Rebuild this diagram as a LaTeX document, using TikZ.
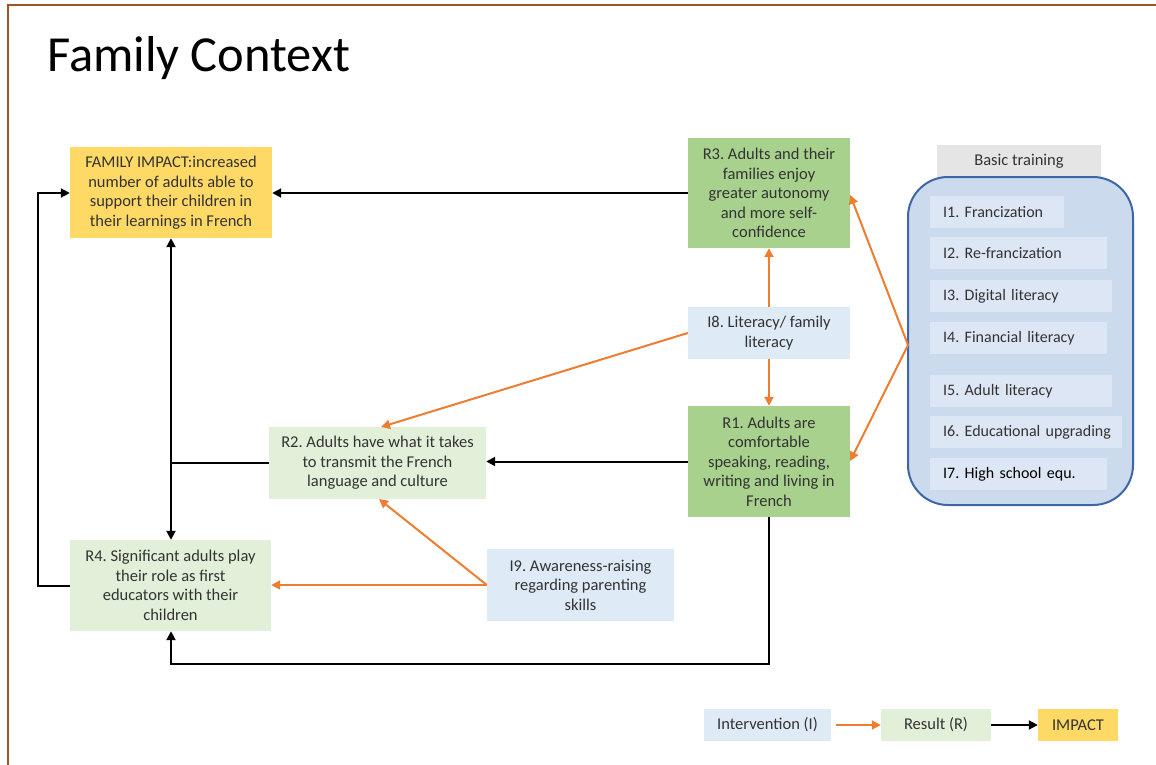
\documentclass[tikz,border=0pt]{standalone}
\usepackage{fontspec}
\setmainfont{Carlito}
\usetikzlibrary{arrows.meta}
\definecolor{frame}{HTML}{9E5424}
\definecolor{orangeln}{HTML}{ED7D31}
\definecolor{impactfill}{HTML}{FFD966}
\definecolor{resdark}{HTML}{A9D18E}
\definecolor{reslight}{HTML}{E2F0D9}
\definecolor{intfill}{HTML}{DEEBF7}
\definecolor{groupfill}{HTML}{CCDAEE}
\definecolor{groupline}{HTML}{3F65A9}
\definecolor{itemfill}{HTML}{DDE6F4}
\definecolor{labelfill}{HTML}{E5E5E5}
\definecolor{txt}{HTML}{333333}
\frenchspacing
\begin{document}
\begin{tikzpicture}[x=1pt,y=-1pt,
  box/.style={inner sep=0pt, align=center, text=txt,
    font=\fontsize{16.5}{19.5}\selectfont},
  item/.style={fill=itemfill, inner xsep=13pt, inner ysep=0pt,
    minimum height=32, text width=#1, align=left, anchor=west, text=txt,
    font=\fontsize{16}{18}\selectfont},
  blk/.style={line width=2pt, -{Triangle[length=9pt,width=9pt]}},
  blkline/.style={line width=2pt},
  org/.style={draw=orangeln, line width=2pt, -{Triangle[length=9pt,width=9pt]}},
]
\useasboundingbox (0,0) rectangle (1156,765);
% page frame
\draw[frame, line width=2pt] (1156,5) -- (8,5) -- (8,765);
\node[anchor=base west, inner sep=0pt, font=\fontsize{50.5}{55}\selectfont] (title) at (47,72) {Family Context};

% results and impact
\node[box, fill=impactfill, minimum width=202, minimum height=91] (impact) at (171,192.5)
  {FAMILY IMPACT:increased\\number of adults able to\\support their children in\\their learnings in French};
\node[box, fill=resdark, minimum width=162, minimum height=110] (r3) at (769,193)
  {R3. Adults and their\\families enjoy\\greater autonomy\\and more self-\\confidence};
\node[box, fill=intfill, minimum width=162, minimum height=52] (i8) at (769,333)
  {I8. Literacy/ family\\literacy};
\node[box, fill=resdark, minimum width=162, minimum height=111] (r1) at (769,461.5)
  {R1. Adults are\\comfortable\\speaking, reading,\\writing and living in\\French};
\node[box, fill=reslight, minimum width=217, minimum height=72] (r2) at (377.5,463)
  {R2. Adults have what it takes\\to transmit the French\\language and culture};
\node[box, fill=reslight, minimum width=201, minimum height=91] (r4) at (170.5,585.5)
  {R4. Significant adults play\\their role as first\\educators with their\\children};
\node[box, fill=intfill, minimum width=187, minimum height=72] (i9) at (580.5,585)
  {I9. Awareness-raising\\regarding parenting\\skills};

% basic training group
\node[box, fill=labelfill, minimum width=164, minimum height=32] (btlabel) at (1019,161) {Basic training};
\node[draw=groupline, fill=groupfill, line width=2pt, rounded corners=40pt,
  minimum width=225, minimum height=328, inner sep=0pt] (group) at (1020.5,341) {};
\node[item=108] (i1) at (930,212) {\mbox{I1. Francization}};
\node[item=151] (i2) at (930,253) {\mbox{I2. Re-francization}};
\node[item=156] (i3) at (930,296) {\mbox{I3. Digital literacy}};
\node[item=151] (i4) at (930,338) {\mbox{I4. Financial literacy}};
\node[item=156] (i5) at (930,391) {\mbox{I5. Adult literacy}};
\node[item=166] (i6) at (930,432) {\mbox{I6. Educational upgrading}};
\node[item=151, text=black] (i7) at (930,474) {\mbox{I7. High school equ.}};

% intervention links
\coordinate (gw) at (908,345);
\draw[org] (gw) -- (r3.east |- 0,195);
\draw[org] (gw) -- (r1.east |- 0,461);
\draw[org] (i8.north) -- (r3.south);
\draw[org] (i8.south) -- (r1.north);
\draw[org] (i8.west) -- (381,427);
\draw[org] (i9.west) -- (r4.east |- i9.west);
\draw[org] (i9.west) -- (379,499);

% result links
\draw[blk] (r3.west) -- (impact.east |- r3.west);
\draw[blk] (r1.west) -- (r2.east |- r1.west);
\coordinate (junc) at (171,463);
\draw[blkline] (r2.west) -- (junc);
\draw[blk] (junc) -- (impact.south);
\draw[blk] (junc) -- (r4.north -| junc);
\draw[blk] (r4.west) -- (38,585.5) -- (38,193) -- (impact.west |- 0,193);
\draw[blk] (r1.south) -- (769,664) -- (171,664) -- (r4.south -| 171,0);

% legend
\node[box, fill=intfill, minimum width=127, minimum height=32] (lgi) at (767.5,725) {Intervention (I)};
\node[box, fill=reslight, minimum width=110, minimum height=32] (lgr) at (936,725) {Result (R)};
\node[box, fill=impactfill, minimum width=80, minimum height=32] (lgm) at (1078,725) {IMPACT};
\draw[org] (lgi.east) ++(5,0) -- (lgr.west);
\draw[blk] (lgr.east) -- (lgm.west);
\end{tikzpicture}
\end{document}
